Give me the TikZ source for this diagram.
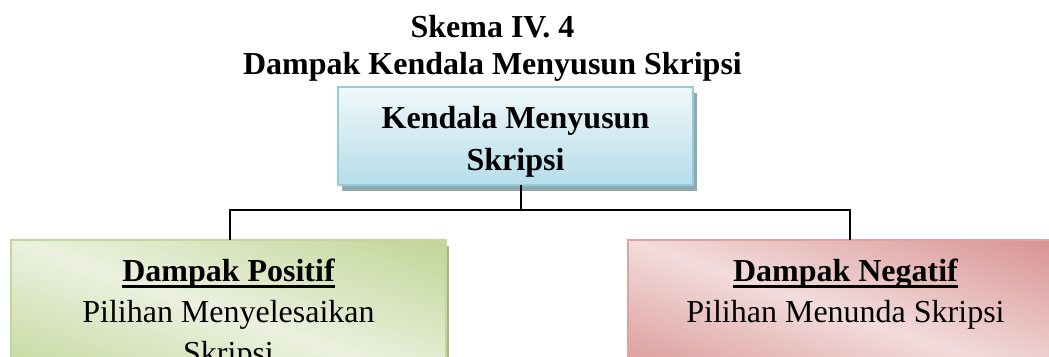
\documentclass[tikz,border=0pt]{standalone}
\usepackage{fontspec}
\setmainfont{Liberation Serif}
\usetikzlibrary{positioning,shadows}

\definecolor{kendalaTop}{HTML}{F0F8FB}
\definecolor{kendalaBot}{HTML}{B6DDE8}
\definecolor{kendalaLine}{HTML}{93CDDD}
\definecolor{kendalaShadow}{HTML}{8EA9AF}
\definecolor{posDark}{HTML}{C3D69B}
\definecolor{posLight}{HTML}{EBF1DE}
\definecolor{posShadow}{HTML}{A7B38C}
\definecolor{negDark}{HTML}{D99594}
\definecolor{negLight}{HTML}{F2DCDB}
\definecolor{negLine}{HTML}{E0A3A2}

\pgfdeclareverticalshading{posband}{100bp}{color(0bp)=(posDark); color(20bp)=(posDark); color(50bp)=(posLight); color(80bp)=(posDark); color(100bp)=(posDark)}
\pgfdeclareverticalshading{negband}{100bp}{color(0bp)=(negDark); color(20bp)=(negDark); color(50bp)=(negLight); color(80bp)=(negDark); color(100bp)=(negDark)}

% heading with a heavy underline
\newcommand\uhead[1]{\setbox0\hbox{#1}\rlap{\rule[-6.5pt]{\wd0}{2.8pt}}\box0}

\begin{document}
\begin{tikzpicture}[x=1pt,y=1pt,
    headtext/.style={font=\bfseries\fontsize{32}{37}\selectfont, anchor=base, inner sep=0pt},
    topbox/.style={draw=kendalaLine, line width=2.5pt, top color=kendalaTop, bottom color=kendalaBot,
      minimum width=355pt, minimum height=98pt, outer sep=0pt, align=center,
      font=\bfseries\fontsize{32}{42}\selectfont,
      drop shadow={shadow xshift=4pt, shadow yshift=-6pt, fill=kendalaShadow, opacity=1}},
    dampak/.style={line width=2.5pt, minimum width=435pt, anchor=north, inner ysep=19pt,
      outer sep=0pt, align=center, font=\fontsize{32}{41}\selectfont},
    posbox/.style={dampak, draw=posDark, shade, shading=posband, shading angle=-19,
      drop shadow={shadow xshift=3pt, shadow yshift=-6pt, fill=posShadow, opacity=1}},
    negbox/.style={dampak, draw=negLine, shade, shading=negband, shading angle=-19},
    link/.style={line width=2pt, black}]
  \useasboundingbox (0,0) rectangle (1049,356);
  \clip (0,0) rectangle (1049,356);

  \node[headtext] (skema) at (492.5,318) {Skema IV. 4};
  \node[headtext] (judul) at (492.5,281) {Dampak Kendala Menyusun Skripsi};

  \node[topbox] (kendala) at (515.5,220) {\rule{0pt}{33pt}Kendala Menyusun\\Skripsi};

  \node[posbox] (positif) at (228.5,116)
    {{\bfseries\uhead{Dampak Positif}}\\Pilihan Menyelesaikan\\Skripsi};
  \node[negbox] (negatif) at (845.5,116)
    {{\bfseries\uhead{Dampak Negatif}}\\Pilihan Menunda Skripsi\\\vphantom{Skripsi}};

  \draw[link] ([xshift=5pt]kendala.south) -- ++(0,-25) coordinate (bus)
    -| ([xshift=1.5pt]positif.north);
  \draw[link] (bus) -| ([xshift=4.5pt]negatif.north);
\end{tikzpicture}
\end{document}
